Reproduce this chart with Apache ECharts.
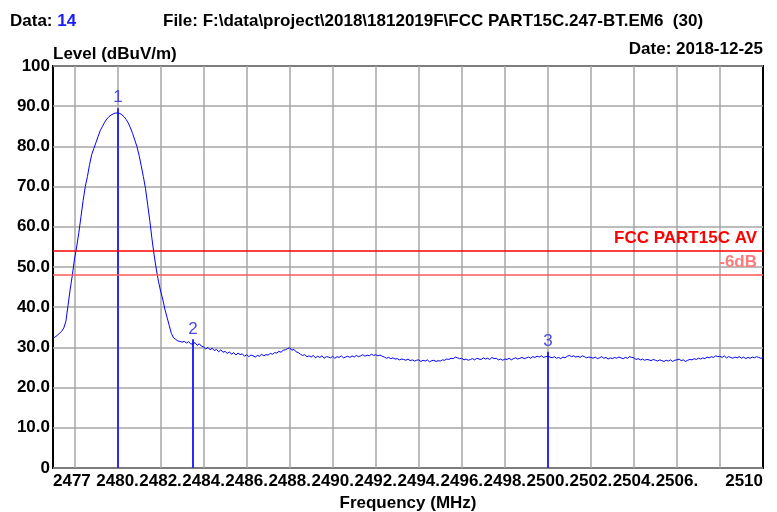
<!DOCTYPE html>
<html>
<head>
<meta charset="utf-8">
<script src="https://cdn.jsdelivr.net/npm/echarts@6/dist/echarts.min.js"></script>
<style>
  html, body { margin: 0; padding: 0; background: #fff; }
  #chart { width: 777px; height: 512px; }
</style>
</head>
<body>
<div id="chart"></div>
<script>
// sweep 2477 - 2510 MHz, one reading every 0.1 MHz
const sweepStart = 2477
const sweepStep  = 0.1
const levels = [
  32.3, 32.6, 33.0, 33.5, 34.0, 34.8, 36.5, 40.5, 44.5, 48.0,
  52.0, 55.0, 58.5, 62.5, 66.5, 70.0, 72.5, 75.5, 78.0, 79.5,
  81.0, 82.5, 84.0, 85.0, 86.0, 86.8, 87.4, 87.8, 88.1, 88.3,
  88.3, 88.2, 87.9, 87.4, 86.7, 85.8, 84.6, 83.2, 81.6, 80.0,
  77.8, 75.2, 72.5, 69.5, 65.5, 61.5, 57.0, 53.0, 49.5, 46.5,
  44.0, 42.0, 39.5, 37.5, 35.5, 33.5, 32.4, 32.0, 31.6, 31.5,
  31.3, 31.5, 31.1, 31.4, 30.9, 30.8, 31.2, 30.5, 30.9, 30.3,
  30.1, 29.6, 30.0, 29.4, 29.8, 29.2, 29.5, 28.9, 29.4, 28.8,
  29.0, 28.5, 28.9, 28.3, 28.7, 28.1, 28.6, 28.2, 28.4, 27.8,
  28.2, 27.7, 28.1, 27.9, 27.6, 28.0, 27.8, 28.3, 27.9, 28.2,
  28.1, 28.5, 28.3, 28.7, 28.6, 29.0, 28.8, 29.3, 29.4, 29.7,
  29.9, 29.3, 29.5, 28.9, 28.7, 28.3, 28.0, 28.2, 27.7, 27.9,
  27.6, 28.0, 27.4, 27.8, 27.5, 27.9, 27.3, 27.7, 27.6, 27.4,
  27.8, 27.3, 27.7, 27.5, 27.9, 27.4, 27.6, 27.8, 27.5, 27.9,
  27.6, 28.0, 27.7, 27.9, 28.2, 27.8, 28.1, 27.9, 28.3, 28.0,
  28.2, 27.9, 28.1, 27.8, 27.6, 27.3, 27.5, 27.2, 27.4, 27.1,
  27.2, 26.9, 27.1, 27.0, 26.8, 27.1, 26.7, 26.9, 26.6, 26.8,
  26.9, 26.5, 26.8, 26.6, 26.9, 26.4, 26.7, 26.8, 26.5, 26.7,
  26.6, 26.9, 26.8, 27.1, 27.0, 27.3, 27.2, 27.6, 27.4, 27.2,
  27.3, 26.9, 27.1, 26.8, 27.0, 27.2, 26.9, 27.3, 27.1, 27.0,
  27.4, 27.1, 27.3, 27.0, 27.5, 27.2, 27.3, 26.9, 27.1, 26.8,
  27.1, 27.0, 27.3, 26.9, 27.2, 27.4, 27.1, 27.3, 27.5, 27.2,
  27.4, 27.6, 27.3, 27.7, 27.5, 27.8, 27.6, 27.9, 27.5, 27.7,
  27.8, 27.6, 27.4, 27.7, 27.3, 27.5, 27.2, 27.6, 27.4, 27.8,
  28.0, 27.7, 27.9, 27.6, 27.8, 27.5, 27.9, 27.7, 27.4, 27.6,
  27.5, 27.3, 27.6, 27.2, 27.4, 27.7, 27.3, 27.5, 27.1, 27.4,
  27.2, 27.5, 27.3, 27.6, 27.4, 27.2, 27.5, 27.3, 27.7, 27.5,
  27.4, 27.0, 27.2, 26.9, 27.1, 26.8, 27.0, 26.9, 26.7, 27.0,
  26.8, 26.6, 26.9, 26.7, 26.5, 26.8, 26.6, 26.9, 26.5, 26.8,
  26.9, 27.1, 26.7, 26.9, 26.5, 26.8, 27.0, 26.9, 27.2, 27.0,
  27.3, 27.1, 27.4, 27.2, 27.6, 27.4, 27.7, 27.5, 27.9, 27.7,
  27.8, 27.5, 27.9, 27.4, 27.7, 27.5, 27.3, 27.6, 27.4, 27.7,
  27.3, 27.6, 27.2, 27.5, 27.3, 27.6, 27.4, 27.7, 27.5, 27.3,
  27.4
]

const markerNo    = [1, 2, 3]
const markerFreq  = [2480.0, 2483.5, 2500.0]
const markerLevel = [88.3, 30.8, 27.7]

const limitLevel  = 54
const marginLevel = 48

const xGridValues  = [2478, 2480, 2482, 2484, 2486, 2488, 2490, 2492, 2494, 2496, 2498, 2500, 2502, 2504, 2506, 2508]
const xLabelValues = [2477, 2480, 2482, 2484, 2486, 2488, 2490, 2492, 2494, 2496, 2498, 2500, 2502, 2504, 2506, 2510]

const FONT = '"Liberation Sans", Arial, sans-serif'

const trace = levels.map((v, i) => [Math.round((sweepStart + i * sweepStep) * 10) / 10, v])

const chart = echarts.init(document.getElementById('chart'), null, { renderer: 'canvas' })

// marker: vertical line down to the axis, number above it
function renderMarker(params, api) {
  const top = api.coord([api.value(0), api.value(1) + 1.2])
  const bottom = api.coord([api.value(0), 0])
  const x = Math.round(top[0])
  return {
    type: 'group',
    children: [
      { type: 'line', shape: { x1: x, y1: top[1], x2: x, y2: bottom[1] },
        style: { stroke: '#2a2aff', lineWidth: 2 } },
      { type: 'text', x: x, y: top[1] - 2,
        style: { text: String(api.value(2)), fill: '#4a4ae0', font: '17px ' + FONT, align: 'center', verticalAlign: 'bottom' } }
    ]
  }
}

chart.setOption({
  backgroundColor: '#fff',
  animation: false,
  textStyle: { fontFamily: FONT },
  grid: {
    left: 53, right: 14, top: 66, bottom: 44, outerBoundsMode: 'none', containLabel: false,
    show: true, borderColor: '#000', borderWidth: 2, backgroundColor: '#fff'
  },
  graphic: [
    { type: 'text', left: 10, top: 13, style: {
      text: '{k|Data: }{v|14}',
      rich: { k: { fontWeight: 'bold', fontSize: 17, fill: '#000', fontFamily: FONT }, v: { fontWeight: 'bold', fontSize: 17, fill: '#1a1aff', fontFamily: FONT } } } },
    { type: 'text', left: 163, top: 13, style: { text: 'File: F:\\data\\project\\2018\\1812019F\\FCC PART15C.247-BT.EM6  (30)', font: 'bold 17px ' + FONT, fill: '#000' } },
    { type: 'text', left: 53, top: 46, style: { text: 'Level (dBuV/m)', font: 'bold 17px ' + FONT, fill: '#000' } },
    { type: 'text', right: 14, top: 41, style: { text: 'Date: 2018-12-25', font: 'bold 17px ' + FONT, fill: '#000' } }
  ],
  xAxis: {
    type: 'value', min: 2477, max: 2510,
    name: 'Frequency (MHz)', nameLocation: 'middle', nameGap: 24,
    nameTextStyle: { fontWeight: 'bold', fontSize: 17, color: '#000', fontFamily: FONT },
    axisLine: { show: false },
    axisTick: { show: false, customValues: xGridValues },
    splitLine: { show: true, lineStyle: { color: '#a6a6a6', width: 1.5 } },
    axisLabel: {
      customValues: xLabelValues, margin: 5, color: '#000', fontWeight: 'bold', fontSize: 17, fontFamily: FONT,
      alignMinLabel: 'left', alignMaxLabel: 'right',
      formatter: v => (v === 2477 || v === 2510) ? String(v) : v + '.'
    }
  },
  yAxis: {
    type: 'value', min: 0, max: 100, interval: 10,
    axisLine: { show: false }, axisTick: { show: false },
    splitLine: { show: true, lineStyle: { color: '#a6a6a6', width: 1.5 } },
    axisLabel: {
      margin: 3, color: '#000', fontWeight: 'bold', fontSize: 17, fontFamily: FONT,
      formatter: v => (v === 0 || v === 100) ? String(v) : v.toFixed(1)
    }
  },
  series: [
    {
      type: 'line', data: [], silent: true,
      markLine: {
        symbol: 'none', silent: true, animation: false,
        lineStyle: { type: 'solid', width: 1.5 },
        data: [
          { yAxis: limitLevel, lineStyle: { color: '#ff0000' },
            label: { show: true, position: 'insideEndTop', distance: [6, 4], formatter: 'FCC PART15C AV', color: '#ff0000', fontWeight: 'bold', fontSize: 17, fontFamily: FONT } },
          { yAxis: marginLevel, lineStyle: { color: '#ff5a5a' },
            label: { show: true, position: 'insideEndTop', distance: [6, 4], formatter: '-6dB', color: '#ff7a7a', fontWeight: 'bold', fontSize: 17, fontFamily: FONT } }
        ]
      }
    },
    {
      type: 'line', data: trace, symbol: 'none', silent: true,
      lineStyle: { color: '#0000ff', width: 1 }
    },
    {
      type: 'custom', silent: true, renderItem: renderMarker,
      encode: { x: 0, y: 1 },
      data: markerFreq.map((f, i) => [f, markerLevel[i], markerNo[i]])
    }
  ]
})
</script>
</body>
</html>
